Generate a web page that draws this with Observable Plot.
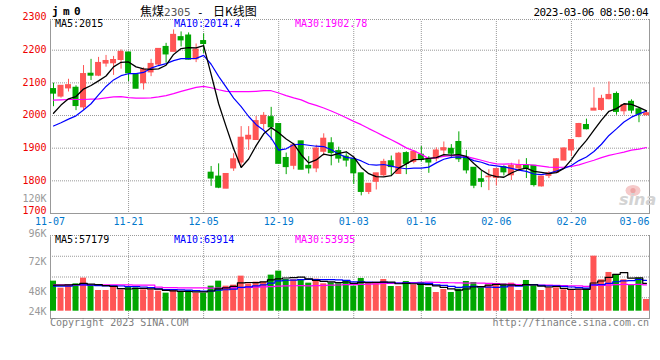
<!DOCTYPE html>
<html>
<head>
<meta charset="utf-8">
<script src="https://cdn.jsdelivr.net/npm/d3@7"></script>
<script src="https://cdn.jsdelivr.net/npm/@observablehq/plot@0.6"></script>
<style>
  html, body { margin: 0; padding: 0; background: #fff; }
  #chart { position: relative; width: 660px; height: 360px; overflow: hidden; background: #fff; }
  #chart svg { position: absolute; left: 0; top: 0; }
</style>
</head>
<body>
<div id="chart"></div>
<script>
// ---------- data ----------
const dates = [
 "11-07","11-08","11-09","11-10","11-11","11-14","11-15","11-16","11-17","11-18",
 "11-21","11-22","11-23","11-24","11-25","11-28","11-29","11-30","12-01","12-02",
 "12-05","12-06","12-07","12-08","12-09","12-12","12-13","12-14","12-15","12-16",
 "12-19","12-20","12-21","12-22","12-23","12-26","12-27","12-28","12-29","12-30",
 "01-03","01-04","01-05","01-06","01-09","01-10","01-11","01-12","01-13","01-16",
 "01-17","01-18","01-19","01-20","01-30","01-31","02-01","02-02","02-03","02-06",
 "02-07","02-08","02-09","02-10","02-13","02-14","02-15","02-16","02-17","02-20",
 "02-21","02-22","02-23","02-24","02-27","02-28","03-01","03-02","03-03","03-06"];
const open = [
 2081,2058,2083,2085,2025,2128,2122,2159,2160,2170,
 2193,2124,2099,2132,2156,2210,2195,2240,2245,2172,
 2228,1825,1813,1776,1838,1856,1927,1925,1974,1995,
 1974,1870,1846,1921,1846,1838,1889,1915,1891,1874,
 1866,1823,1766,1797,1817,1860,1821,1885,1858,1880,
 1864,1868,1893,1898,1919,1872,1840,1805,1811,1809,
 1842,1817,1838,1848,1846,1783,1815,1825,1862,1893,
 1934,1971,2015,2017,2050,2066,2013,2042,2019,2001];
const high = [
 2099,2091,2111,2091,2153,2172,2178,2184,2181,2201,
 2193,2124,2146,2172,2204,2221,2262,2256,2253,2219,
 2250,1844,1852,1821,1883,1966,1966,1997,2009,2025,
 1974,1885,1915,1921,1874,1909,1944,1932,1903,1883,
 1866,1823,1791,1823,1866,1876,1887,1889,1893,1905,
 1874,1901,1919,1911,1950,1893,1840,1830,1834,1836,
 1846,1854,1864,1868,1846,1813,1828,1868,1901,1927,
 1976,1989,2085,2062,2103,2072,2034,2048,2023,2011];
const low = [
 2027,2053,2072,2015,2016,2107,2119,2148,2123,2142,
 2104,2082,2078,2119,2150,2160,2195,2210,2170,2162,
 2190,1783,1776,1776,1829,1844,1893,1925,1956,1923,
 1852,1819,1834,1834,1821,1825,1876,1846,1854,1842,
 1789,1754,1758,1772,1813,1813,1821,1819,1852,1858,
 1823,1858,1872,1868,1856,1821,1776,1779,1770,1785,
 1815,1801,1828,1807,1781,1781,1807,1823,1862,1874,
 1932,1956,2015,2013,2048,2001,2001,2005,1978,1999];
const close = [
 2067,2091,2093,2029,2127,2122,2161,2167,2170,2195,
 2129,2082,2140,2158,2204,2187,2247,2230,2171,2202,
 2219,1807,1779,1821,1866,1932,1938,1983,1999,1964,
 1852,1842,1909,1834,1838,1899,1929,1885,1868,1862,
 1823,1766,1791,1823,1858,1842,1883,1852,1889,1864,
 1856,1893,1900,1883,1866,1832,1785,1797,1813,1836,
 1826,1846,1848,1838,1787,1813,1823,1866,1899,1925,
 1974,1958,2021,2051,2063,2011,2032,2015,2003,2007];
const ma5 = [
 2007,2032,2051,2058,2081,2092,2106,2121,2149,2163,
 2164,2149,2143,2141,2143,2154,2187,2205,2208,2207,
 2214,2126,2036,1966,1898,1841,1867,1908,1944,1963,
 1947,1928,1913,1880,1855,1864,1882,1877,1884,1889,
 1873,1841,1822,1813,1812,1816,1839,1852,1865,1866,
 1869,1871,1880,1879,1880,1875,1853,1833,1819,1813,
 1811,1824,1834,1839,1829,1826,1822,1825,1838,1865,
 1897,1924,1955,1986,2013,2021,2036,2034,2025,2014];
const ma10 = [
 1968,1978,1989,1999,2017,2036,2063,2089,2109,2122,
 2128,2128,2132,2145,2153,2159,2168,2174,2174,2175,
 2184,2157,2120,2087,2053,2027,1997,1972,1955,1931,
 1894,1898,1911,1912,1909,1906,1905,1895,1882,1872,
 1869,1861,1850,1848,1850,1845,1840,1837,1839,1839,
 1842,1855,1866,1872,1873,1872,1862,1857,1849,1846,
 1843,1838,1833,1829,1821,1819,1823,1830,1838,1847,
 1862,1873,1890,1912,1939,1959,1980,1995,2005,2014];
const ma30 = [
 2047,2048,2049,2049,2049,2050,2051,2054,2057,2058,
 2055,2053,2053,2054,2057,2061,2067,2074,2080,2086,
 2089,2085,2079,2074,2073,2073,2073,2074,2076,2076,
 2069,2061,2054,2048,2038,2031,2023,2014,2004,1993,
 1982,1972,1960,1949,1937,1926,1914,1901,1892,1881,
 1868,1871,1875,1877,1877,1874,1869,1863,1857,1852,
 1851,1852,1850,1850,1848,1845,1842,1841,1842,1844,
 1849,1856,1863,1871,1878,1883,1888,1894,1897,1902];
// volume, thousands of lots
const volume = [
 63.0,48.3,53.9,57.4,69.3,53.9,43.4,43.4,50.4,44.8,
 50.4,49.0,44.8,44.8,42.0,37.8,43.4,39.9,43.4,37.8,
 37.8,52.5,63.0,52.5,54.6,73.5,57.4,60.9,60.9,75.6,
 84.0,66.5,65.8,64.4,58.8,67.2,57.4,59.5,57.4,64.4,
 52.5,68.6,57.4,60.2,66.5,51.8,51.8,62.3,55.3,60.2,
 49.7,39.2,45.5,39.2,46.2,62.3,60.2,49.0,54.6,55.3,
 57.4,58.8,43.4,64.4,53.2,43.4,49.0,49.0,44.8,43.4,
 44.8,46.9,115.4,65.8,81.2,77.0,65.8,56.0,68.6,24.5];
const volMa5 = [
 54.5,54.5,55.0,56.0,58.4,56.6,55.6,53.5,52.1,47.2,
 46.5,47.6,47.9,46.8,46.2,43.7,42.6,41.6,41.3,40.5,
 40.5,42.3,46.9,48.7,52.1,59.2,60.2,59.8,61.5,65.7,
 67.8,69.6,70.6,71.3,67.9,64.5,62.7,61.5,60.1,61.2,
 58.2,60.5,60.1,60.6,61.0,60.9,57.5,58.5,57.5,56.3,
 55.9,53.3,50.0,46.8,44.0,46.5,50.7,51.4,54.5,56.3,
 55.3,55.0,53.9,55.9,55.4,52.6,50.7,51.8,47.9,45.9,
 46.2,45.8,59.1,63.3,70.8,77.3,81.0,69.2,69.7,58.4];
const volMa10 = [
 52.5,52.5,52.5,55.3,55.3,54.5,53.5,53.0,53.0,52.8,
 51.5,51.6,50.7,49.4,46.7,45.1,45.1,44.7,44.0,43.3,
 42.1,42.4,44.2,45.0,46.3,49.8,51.2,53.3,55.1,58.9,
 63.5,64.9,65.2,66.4,66.8,66.2,66.2,66.0,65.7,64.5,
 61.4,61.6,60.8,60.3,61.1,59.6,59.0,59.3,59.1,58.7,
 58.4,55.4,54.3,52.2,50.1,51.2,52.0,50.7,50.6,50.1,
 50.9,52.9,52.6,55.2,55.9,54.0,52.9,52.9,51.9,50.7,
 49.4,48.2,55.4,55.6,58.4,61.7,63.4,64.1,66.5,64.6];
const volMa30 = [
 55.5,55.5,55.3,55.3,55.3,55.2,55.2,55.0,55.0,55.0,
 55.0,54.8,54.8,54.5,50.5,49.5,49.5,49.0,49.0,48.8,
 48.8,48.5,48.5,48.8,49.0,49.5,50.0,50.5,51.0,51.7,
 52.4,53.0,53.4,53.6,53.2,53.7,54.2,54.7,54.9,55.6,
 55.7,56.3,56.7,57.2,58.1,58.5,58.8,59.5,59.9,60.7,
 61.1,60.6,60.1,59.6,59.3,59.0,59.1,58.7,58.5,57.8,
 56.9,56.6,55.9,55.9,55.7,54.9,54.6,54.3,53.9,53.2,
 52.9,52.2,54.1,54.3,54.8,55.6,56.1,55.9,56.3,55.1];
const priceTicks = [1700,1800,1900,2000,2100,2200,2300];
const volTicks = [24,48,72,96,120];
const dateTicks = ["11-07","11-21","12-05","12-19","01-03","01-16","02-06","02-20","03-06"];
const priceLegend = ["MA5:2015","MA10:2014.4","MA30:1902.78"];
const volLegend = ["MA5:57179","MA10:63914","MA30:53935"];
const legendColors = ["#000000","#0000ff","#ff00ff"];

// ---------- layout ----------
const rows = dates.map((date, i) => ({
  date, open: open[i], high: high[i], low: low[i], close: close[i],
  ma5: ma5[i], ma10: ma10[i], ma30: ma30[i],
  volume: volume[i], volMa5: volMa5[i], volMa10: volMa10[i], volMa30: volMa30[i]
}));
const W = 660, H = 360, L = 50, R = 11;
const UP = "#ff5555", DOWN = "#00a600", BLUE = "#0077cc";
const MONO = "'DejaVu Sans Mono', monospace";
const isUp = d => d.close >= d.open;
const isDown = d => d.close < d.open;
const svgStyle = {position: "absolute", left: "0px", top: "0px", background: "transparent", fontFamily: MONO, overflow: "visible"};
const xScale = {type: "band", domain: dates, paddingInner: 0.2, paddingOuter: 0, align: 0, round: false, axis: null};
const grid = {stroke: "#999", strokeOpacity: 1, strokeDasharray: "1,1"};
const PRICE_TOP = 2294;
const VOL_LO = -15.3, VOL_HI = 158.7;
const yLabel = {tickFormat: d => String(d), tickSize: 0, tickPadding: 4, fill: "#ee0000", fontSize: 10, fontFamily: MONO, label: null};
const xLabel = {x: d => d, frameAnchor: "bottom", lineAnchor: "middle", dy: 8.6, fill: BLUE, fontSize: 10, fontFamily: MONO};

const mainPlot = Plot.plot({
  width: W, height: H, marginLeft: L, marginRight: R, marginTop: 19, marginBottom: H - 213,
  style: svgStyle,
  x: xScale,
  y: {domain: [1700, PRICE_TOP], axis: null, label: null},
  marks: [
    Plot.gridY({ticks: priceTicks.filter(t => t > 1700 && t < PRICE_TOP), ...grid}),
    Plot.gridX({ticks: dateTicks.slice(1, -1), ...grid}),
    Plot.frame({stroke: "#999"}),
    Plot.ruleY([PRICE_TOP], {stroke: "#fff", strokeWidth: 1.6}),
    Plot.ruleY([PRICE_TOP], grid),
    Plot.ruleX(rows, {filter: isUp, x: "date", y1: "low", y2: "high", stroke: UP}),
    Plot.ruleX(rows, {filter: isDown, x: "date", y1: "low", y2: "high", stroke: DOWN}),
    Plot.barY(rows, {filter: isUp, x: "date", y1: "open", y2: "close", fill: UP, insetTop: -0.5, insetBottom: -0.5}),
    Plot.barY(rows, {filter: isDown, x: "date", y1: "open", y2: "close", fill: DOWN, insetTop: -0.5, insetBottom: -0.5}),
    Plot.line(rows, {x: "date", y: "ma30", stroke: "#ff00ff", strokeWidth: 1.2}),
    Plot.line(rows, {x: "date", y: "ma10", stroke: "#0000ff", strokeWidth: 1.2}),
    Plot.line(rows, {x: "date", y: "ma5", stroke: "#000", strokeWidth: 1.3}),
    Plot.axisY({ticks: priceTicks.slice(1), dy: -0.5, ...yLabel}),
    Plot.axisY({ticks: priceTicks.slice(0, 1), dy: -3, ...yLabel}),
    Plot.text(dateTicks.slice(0, 1), {...xLabel, dx: -3.5}),
    Plot.text(dateTicks.slice(1, -1), xLabel),
    Plot.text(dateTicks.slice(-1), {...xLabel, dx: 3, textAnchor: "end"})
  ]
});

const volPlot = Plot.plot({
  width: W, height: H, marginLeft: L, marginRight: R, marginTop: 235, marginBottom: H - 318,
  style: svgStyle,
  x: xScale,
  y: {domain: [VOL_LO, VOL_HI], axis: null, label: null},
  marks: [
    Plot.gridY({ticks: [1, 2, 3].map(k => VOL_LO + (VOL_HI - VOL_LO) * k / 4), ...grid}),
    Plot.gridX({ticks: dateTicks.slice(1, -1), ...grid}),
    Plot.frame({stroke: "#999"}),
    Plot.ruleY([VOL_HI], {stroke: "#fff", strokeWidth: 1.6}),
    Plot.ruleY([VOL_HI], grid),
    Plot.barY(rows, {filter: isUp, x: "date", y: "volume", fill: UP}),
    Plot.barY(rows, {filter: isDown, x: "date", y: "volume", fill: DOWN}),
    Plot.line(rows, {x: "date", y: "volMa30", stroke: "#ff00ff", strokeWidth: 1.2, curve: "step"}),
    Plot.line(rows, {x: "date", y: "volMa10", stroke: "#0000ff", strokeWidth: 1.2, curve: "step"}),
    Plot.line(rows, {x: "date", y: "volMa5", stroke: "#000", strokeWidth: 1.2, curve: "step"})
  ]
});

const volAxisPlot = Plot.plot({
  width: W, height: H, marginLeft: L, marginRight: R, marginTop: 0, marginBottom: 0,
  style: svgStyle,
  y: {type: "linear", domain: volTicks, range: [311, 291.5, 261, 233.3, 198], label: null},
  marks: [
    Plot.axisY({ticks: volTicks, tickSize: 0, tickPadding: 4, tickFormat: d => d + "K", fill: "#999", fontSize: 10, fontFamily: MONO, label: null})
  ]
});

const chart = document.getElementById("chart");
chart.append(mainPlot, volPlot, volAxisPlot);

// ---------- titles, legends, footer ----------
const ann = d3.select(chart).append("svg")
  .attr("width", W).attr("height", H)
  .style("position", "absolute").style("left", "0px").style("top", "0px")
  .style("overflow", "visible");
function label(x, y, s, o = {}) {
  return ann.append("text").attr("x", x).attr("y", y)
    .attr("font-family", o.family || MONO).attr("font-size", o.size || 10)
    .attr("font-weight", o.weight || "normal").attr("font-style", o.style || "normal")
    .attr("letter-spacing", o.spacing || 0)
    .attr("text-anchor", o.anchor || "start").attr("fill", o.fill || "#000").text(s);
}
label(52, 14.5, "jm0", {weight: "bold", size: 11, spacing: 4.4});
const title = ann.append("text").attr("y", 16).attr("font-size", 12)
  .attr("font-family", "'Noto Sans CJK SC', sans-serif").attr("fill", "#000");
title.append("tspan").attr("x", 140).text("焦煤");
title.append("tspan").attr("font-family", MONO).attr("font-size", 11).attr("fill", "#555").text("2305");
title.append("tspan").attr("x", 197).attr("font-family", MONO).attr("font-size", 11).text("-");
title.append("tspan").attr("x", 213).text("日K线图");
label(648, 15.5, "2023-03-06 08:50:04", {size: 11, spacing: -0.6, anchor: "end"});
const legendX = [55, 174, 295];
priceLegend.forEach((s, i) => label(legendX[i], 27.3, s, {fill: legendColors[i]}));
volLegend.forEach((s, i) => label(legendX[i], 242.5, s, {fill: legendColors[i]}));
label(50, 325.5, "Copyright 2023 SINA.COM", {fill: "#808080"});
label(649, 325.5, "http://finance.sina.com.cn", {fill: "#808080", anchor: "end"});
// faint sina watermark
ann.append("ellipse").attr("cx", 633).attr("cy", 190.5).attr("rx", 7.5).attr("ry", 5.5).attr("fill", "#f6caca");
ann.append("circle").attr("cx", 633).attr("cy", 190.5).attr("r", 2.6).attr("fill", "#eda5a5");
label(619, 204.5, "sina", {family: "'DejaVu Sans', sans-serif", size: 16, weight: "bold", style: "italic", fill: "#d3d3d3"});
</script>
</body>
</html>
